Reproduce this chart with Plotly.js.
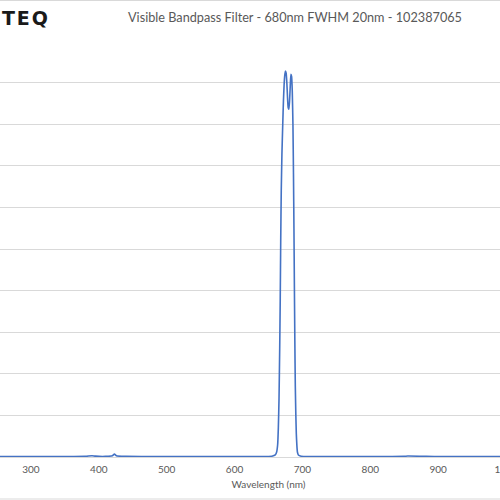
<!DOCTYPE html>
<html>
<head>
<meta charset="utf-8">
<script src="https://cdn.plot.ly/plotly-3.0.1.min.js"></script>
<style>
  html, body { margin: 0; padding: 0; width: 500px; height: 500px; overflow: hidden; background: #fff; }
  #chart { position: absolute; left: -3px; top: 0; width: 543px; height: 500px; }
</style>
</head>
<body>
<div id="chart"></div>
<script>
// Wavelength (nm) and transmission (%)
const wavelength = [250, 300, 350, 380, 390, 395, 410, 420, 423, 426, 440, 500, 550, 600, 640, 655, 660, 662, 663.5, 664.5, 665.5, 666.5, 667.3, 668, 668.8, 669.8, 671, 672, 673, 674, 675, 676, 677, 678, 679, 680, 681, 682, 683, 684, 685, 686, 686.8, 687.5, 688.1, 688.8, 689.5, 690.3, 691, 691.8, 692.6, 694, 698, 710, 800, 850, 855, 900, 950, 1000, 1050];
const transmission = [0.1, 0.1, 0.1, 0.15, 0.3, 0.2, 0.15, 0.3, 0.7, 0.3, 0.15, 0.1, 0.1, 0.1, 0.1, 0.2, 0.5, 1.2, 3, 7, 14, 26, 38, 52, 64, 73, 80, 85.5, 89.5, 91.8, 92.8, 92.3, 90, 86.5, 84, 83.6, 85.5, 89, 92, 91.5, 88, 80, 68, 55, 42, 28, 17, 10, 5.5, 2.8, 1.2, 0.5, 0.2, 0.1, 0.1, 0.15, 0.25, 0.1, 0.1, 0.1, 0.1];
const xTicks = [300, 400, 500, 600, 700, 800, 900, 1000];
const yTicks = [0, 10, 20, 30, 40, 50, 60, 70, 80, 90, 100];
const titleText = "Visible Bandpass Filter - 680nm FWHM 20nm - 102387065";
const xTitle = "Wavelength (nm)";
const logoText = "T\u200AE\u200AQ";

const trace = {
  x: wavelength,
  y: transmission,
  type: 'scatter',
  mode: 'lines',
  line: { color: '#4472C4', width: 1.6, shape: 'spline', smoothing: 0.5 },
  hoverinfo: 'skip'
};

const layout = {
  width: 543, height: 500,
  margin: { l: 0, r: 0, t: 41, b: 43, pad: 0 },
  paper_bgcolor: '#ffffff',
  plot_bgcolor: '#ffffff',
  showlegend: false,
  title: {
    text: titleText,
    font: { family: 'Lato, "Open Sans", sans-serif', size: 12.7, color: '#595959' },
    xref: 'container', x: 298 / 543, xanchor: 'center',
    yref: 'container', y: 1 - 18 / 500, yanchor: 'middle'
  },
  xaxis: {
    range: [250, 1050],
    tickvals: xTicks,
    ticktext: xTicks.map(String),
    showgrid: false,
    zeroline: false,
    showline: false,
    ticks: 'outside', ticklen: 3, tickcolor: 'rgba(0,0,0,0)',
    tickfont: { family: 'Lato, "Open Sans", sans-serif', size: 10, color: '#595959' },
    title: { text: xTitle, font: { family: 'Lato, "Open Sans", sans-serif', size: 10, color: '#595959' }, standoff: 6 }
  },
  yaxis: {
    range: [0, 100],
    tickvals: yTicks,
    showticklabels: false,
    showgrid: true,
    gridcolor: '#d9d9d9',
    gridwidth: 1,
    zeroline: true,
    zerolinecolor: '#d9d9d9',
    showline: false,
    ticks: ''
  },
  shapes: [
    { type: 'line', xref: 'paper', yref: 'paper', x0: -0.05, x1: 1.05, y0: 457 / 416 - 0.5 / 416, y1: 457 / 416 - 0.5 / 416, line: { color: '#d9d9d9', width: 1.2 } },
    { type: 'line', xref: 'paper', yref: 'paper', x0: -0.05, x1: 1.05, y0: (457 - 499) / 416, y1: (457 - 499) / 416, line: { color: '#d9d9d9', width: 1.2 } }
  ],
  annotations: [
    { text: '<b>' + logoText + '</b>', xref: 'paper', yref: 'paper', x: 3 / 543, y: (457 - 18) / 416, xanchor: 'left', yanchor: 'middle', showarrow: false,
      font: { family: '"DejaVu Sans", sans-serif', size: 19, color: '#1a1a1a' } }
  ]
};

Plotly.newPlot('chart', [trace], layout, { displayModeBar: false, staticPlot: true });
</script>
</body>
</html>
